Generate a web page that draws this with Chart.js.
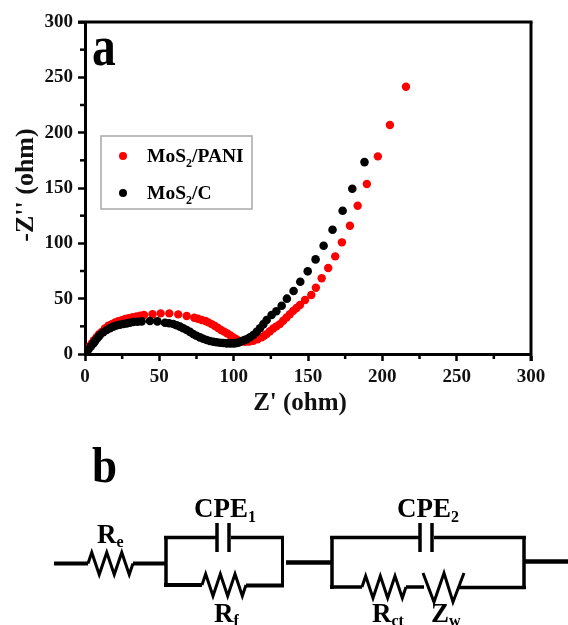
<!DOCTYPE html>
<html>
<head>
<meta charset="utf-8">
<style>html,body{margin:0;padding:0;background:#fff}#wrap{width:568px;height:625px;position:relative}</style>
<script src="https://cdn.jsdelivr.net/npm/chart.js@4"></script>
</head>
<body>
<div id="wrap"><canvas id="c" width="568" height="625"></canvas></div>
<script>
const panaX = [0.5,1.2,2.2,3.3,4.5,6,7.9,9.5,11.2,13.4,15.7,18,20.2,22.4,24.7,27,29.2,32,34.7,37.2,39.7,45.4,50.9,56.7,62.7,68.4,73.5,76,78.5,81,83,85.2,87.4,89.5,91.5,93.6,95.7,97.8,99.8,101.5,103.1,105.3,107.6,110.4,113.2,116,118.8,120.5,122.2,124.4,126.6,128.8,131.1,133.3,135.6,137.8,140.1,142.3,144.6,148,152.2,155.3,159.2,163.6,168.3,172.8,178.2,183.4,189.6,197,205.1,215.9];
const panaY = [0.5,2.2,4.4,7,9.5,12.5,15.5,18,20,23,25.5,27,28.5,29.7,30.5,31.6,32.3,33.2,33.9,34.6,35.2,36,36.7,36.7,35.8,34.3,32.8,31.8,30.7,29.8,28.6,27,25.3,23.5,21.7,20.2,18.6,16.8,15,13.5,12.3,11.4,11,11.2,12,13.3,15,16.4,18,20.5,23,25,27,30,33,36,39,41.6,44.3,48.8,53.3,59.9,68.4,77.7,88.2,100.9,115.9,134,153.6,178.6,206.9,241.5];
const carbonX = [0.5,1.5,2.5,4,5.6,6.7,7.8,9,10,12.3,14.6,16.8,19,21.2,23.5,25.8,28,30.2,32.5,35.3,38.1,43.7,48.7,53.8,56.6,59.4,61.6,63.9,66.1,68.4,70.6,72.8,75,77.3,79.5,81.8,84,86.3,88.5,90.8,93,95.3,97.5,99.7,101.4,103,104.4,105.8,107.2,108.7,111,113.2,115.5,117.7,120,122.2,125.5,128.7,132.3,135.8,140.3,144.8,149.8,155.1,160.5,166.5,173.3,179.8,188];
const carbonY = [0.5,2.5,4.5,7,9.6,11.6,13.6,15.4,17.2,19.6,21.7,23.3,24.7,25.7,26.5,27.1,27.7,28.3,28.9,29.2,29.5,29.8,29.5,28.3,27.8,27.1,26,24.7,23.3,21.7,20,18,16.5,15,13.8,12.6,11.8,11.1,10.6,10.2,9.9,9.6,9.6,9.6,9.8,10.2,11,11.8,12.6,13.3,15.2,17.2,20,23.2,27,30.7,35.2,38.6,43.6,50,56.9,65.3,74.7,85.5,97.8,112.3,129.5,149.3,173.4];
const seriesNames = ['MoS₂/PANI','MoS₂/C'];
const seriesColors = ['#ff0000','#000000'];
const majorTicks = [0,50,100,150,200,250,300];
const minorTicks = [25,75,125,175,225,275];
const xTitle = "Z' (ohm)";
const yTitle = "-Z'' (ohm)";

const SERIF = '"Liberation Serif","Times New Roman",serif';
const toPts = (xs, ys) => xs.map((x, i) => ({x, y: ys[i]}));

function txt(ctx, s, x, y, size) {
  ctx.font = 'bold ' + size + 'px ' + SERIF;
  ctx.fillText(s, x, y);
  return x + ctx.measureText(s).width;
}
function label(ctx, main, sub, x, y, size, subSize, drop, tail) {
  let e = txt(ctx, main, x, y, size);
  e = txt(ctx, sub, e, y + drop, subSize);
  if (tail) txt(ctx, tail, e, y, size);
}
function path(ctx, pts, w) {
  ctx.lineWidth = w;
  ctx.beginPath();
  pts.forEach((p, i) => i ? ctx.lineTo(p[0], p[1]) : ctx.moveTo(p[0], p[1]));
  ctx.stroke();
}
function zig(ctx, x0, x1, y, amp, n, w) {
  const pts = [[x0, y]], step = (x1 - x0) / n;
  for (let i = 0; i < n; i++) pts.push([x0 + step * (i + 0.5), y + (i % 2 ? amp : -amp)]);
  pts.push([x1, y]);
  path(ctx, pts, w);
}

const decor = {
  id: 'decor',
  afterDatasetsDraw(chart) {
    const {ctx, chartArea: a, scales: {x, y}} = chart;
    ctx.save();
    ctx.strokeStyle = '#000'; ctx.lineCap = 'butt';
    path(ctx, [[a.left - 7, a.top], [a.right + 1.5, a.top]], 3);
    path(ctx, [[a.right, a.top], [a.right, a.bottom + 7]], 3);
    minorTicks.forEach(v => {
      path(ctx, [[x.getPixelForValue(v), a.bottom], [x.getPixelForValue(v), a.bottom + 5]], 2.5);
      path(ctx, [[a.left, y.getPixelForValue(v)], [a.left - 5, y.getPixelForValue(v)]], 2.5);
    });
    // legend
    ctx.strokeStyle = '#a8a8a8'; ctx.lineWidth = 1.5;
    ctx.strokeRect(101, 136, 151, 73);
    ctx.fillStyle = seriesColors[0];
    ctx.beginPath(); ctx.arc(123, 156, 4, 0, 7); ctx.fill();
    ctx.fillStyle = seriesColors[1];
    ctx.beginPath(); ctx.arc(123, 193, 4, 0, 7); ctx.fill();
    ctx.fillStyle = '#000'; ctx.textBaseline = 'alphabetic'; ctx.textAlign = 'left';
    label(ctx, 'MoS', '2', 147, 162, 19.5, 12, 5, '/PANI');
    label(ctx, 'MoS', '2', 147, 199, 19.5, 12, 5, '/C');
    // axis titles
    ctx.fillStyle = '#111';
    ctx.textAlign = 'center';
    ctx.font = 'bold 25px ' + SERIF;
    ctx.fillText(xTitle, 300, 410);
    ctx.save();
    ctx.translate(33, 185);
    ctx.rotate(-Math.PI / 2);
    ctx.font = 'bold 26px ' + SERIF;
    ctx.fillText(yTitle, 0, 0);
    ctx.restore();
    ctx.textAlign = 'left';
    ctx.fillStyle = '#000';
    // panel letters
    ctx.save(); ctx.translate(92, 65); ctx.scale(0.85, 1); txt(ctx, 'a', 0, 0, 56); ctx.restore();
    ctx.save(); ctx.translate(92, 482); ctx.scale(0.9, 1); txt(ctx, 'b', 0, 0, 50); ctx.restore();
    // circuit
    ctx.strokeStyle = '#000';
    path(ctx, [[54, 563.5], [88, 563.5]], 4);
    zig(ctx, 88, 133, 563.5, 11, 6, 3);
    path(ctx, [[133, 563.5], [166, 563.5]], 4);
    path(ctx, [[217, 537.5], [164, 537.5]], 3.5);
    path(ctx, [[166, 536], [166, 586]], 3.5);
    path(ctx, [[164, 585], [202, 585]], 4);
    zig(ctx, 202, 246, 585, 11, 6, 3);
    path(ctx, [[246, 585.5], [284, 585.5]], 4);
    path(ctx, [[282.5, 587], [282.5, 536]], 3);
    path(ctx, [[284, 537.5], [231, 537.5]], 3.5);
    path(ctx, [[217, 523], [217, 552]], 3.5);
    path(ctx, [[229, 523], [229, 552]], 3.5);
    path(ctx, [[286, 562.5], [331, 562.5]], 4.5);
    path(ctx, [[332, 536], [332, 589]], 3.5);
    path(ctx, [[330, 537.5], [420, 537.5]], 3.5);
    path(ctx, [[434, 537.5], [526, 537.5]], 3.5);
    path(ctx, [[420, 523], [420, 552]], 3.5);
    path(ctx, [[432, 523], [432, 552]], 3.5);
    path(ctx, [[524, 536], [524, 589]], 3.5);
    path(ctx, [[330, 587], [362, 587]], 3.5);
    zig(ctx, 362, 406, 587, 11, 6, 3);
    path(ctx, [[406, 587], [424, 587]], 3.5);
    path(ctx, [[423, 573], [434, 602], [444, 573], [453, 602], [464, 573]], 3);
    path(ctx, [[459, 587.5], [526, 587.5]], 3.5);
    path(ctx, [[525, 561.5], [568, 561.5]], 4.5);
    label(ctx, 'CPE', '1', 194, 517, 27, 16, 5);
    label(ctx, 'CPE', '2', 397, 517, 27, 16, 5);
    label(ctx, 'R', 'e', 97, 543, 27, 16, 4);
    label(ctx, 'R', 'f', 214, 622, 27, 16, 4);
    label(ctx, 'R', 'ct', 372, 622, 27, 16, 4);
    label(ctx, 'Z', 'w', 431, 622, 27, 16, 4);
    ctx.restore();
  }
};

const axis = () => ({
  type: 'linear', min: 0, max: 300,
  afterBuildTicks(s) { s.ticks = majorTicks.map(value => ({value})); },
  border: {display: true, color: '#000', width: 3},
  grid: {display: true, drawOnChartArea: false, drawTicks: true, tickLength: 7, tickWidth: 2.5, tickColor: '#000'},
  ticks: {color: '#111', font: {family: SERIF, weight: 'bold', size: 19}, maxRotation: 0, autoSkip: false},
  title: {display: false}
});
const xAxis = axis();
xAxis.afterFit = s => { s.height = 58; };
xAxis.ticks.padding = 5;
const yAxis = axis();
yAxis.afterFit = s => { s.width = 85; };
yAxis.ticks.padding = 5;

new Chart(document.getElementById('c'), {
  type: 'scatter',
  data: {datasets: [
    {label: seriesNames[0], order: 2, data: toPts(panaX, panaY), backgroundColor: seriesColors[0], borderColor: seriesColors[0], pointRadius: 4.2, pointBorderWidth: 0},
    {label: seriesNames[1], order: 1, data: toPts(carbonX, carbonY), backgroundColor: seriesColors[1], borderColor: seriesColors[1], pointRadius: 4.3, pointBorderWidth: 0}
  ]},
  options: {
    responsive: false, animation: false,
    layout: {padding: {left: 0, top: 22, right: 37, bottom: 213}},
    plugins: {legend: {display: false}, tooltip: {enabled: false}},
    scales: {x: xAxis, y: yAxis}
  },
  plugins: [decor]
});
</script>
</body>
</html>
